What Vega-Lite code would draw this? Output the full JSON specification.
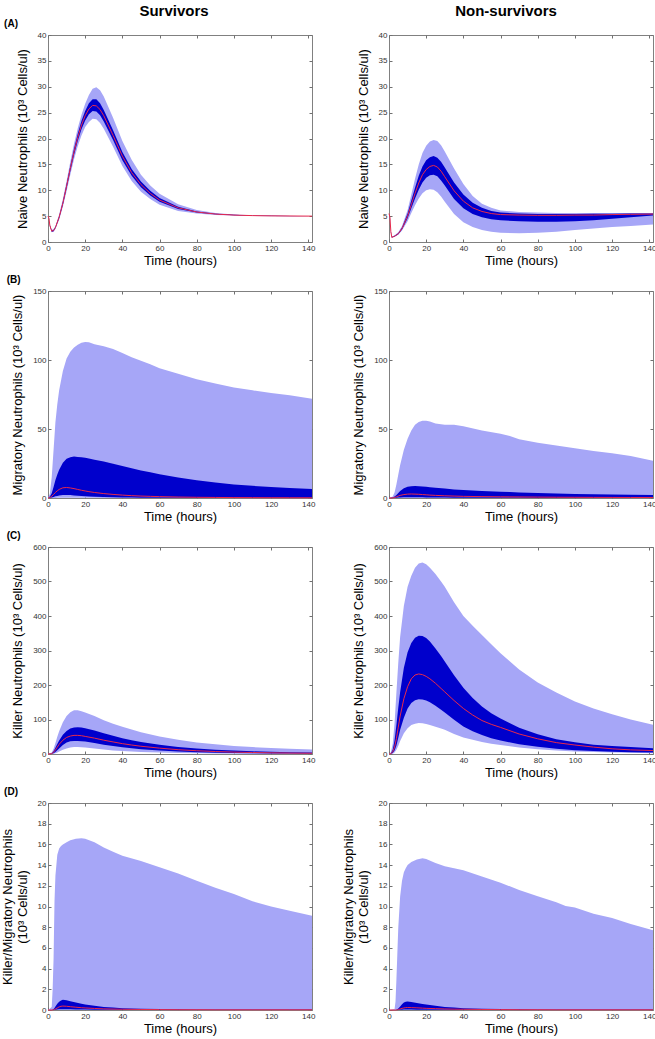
{
"$schema": "https://vega.github.io/schema/vega-lite/v6.json",
"background": "white",
"padding": {"left": 0, "top": 3, "right": 0, "bottom": 0},
"config": {
  "font": "Liberation Sans",
  "view": {"stroke": "#808080", "strokeWidth": 1},
  "axis": {"domain": false, "grid": false, "tickColor": "#707070", "tickSize": -3, "tickWidth": 1, "labelFontSize": 8, "labelColor": "#333333", "labelPadding": 5, "labelFlush": false, "labelOverlap": false, "titleFontSize": 13, "titleFontWeight": "normal", "titleColor": "#000000", "labelFont": "Liberation Sans", "titleFont": "Liberation Sans"},
  "axisX": {"titlePadding": 2},
  "axisY": {"titlePadding": 8},
  "title": {"fontSize": 10, "fontWeight": "bold", "anchor": "start", "frame": "bounds", "color": "#000000", "offset": 2, "font": "Liberation Sans"}
},
"datasets": {
"A_S": [
{"t":0,"med":5.0,"lo50":5.0,"hi50":5.0,"lo95":5.0,"hi95":5.0},
{"t":0.5,"med":4.6,"lo50":4.55,"hi50":4.65,"lo95":4.5,"hi95":4.7},
{"t":1,"med":3.2,"lo50":3.1,"hi50":3.3,"lo95":3.0,"hi95":3.4},
{"t":2,"med":2.1,"lo50":2.0,"hi50":2.2,"lo95":1.9,"hi95":2.3},
{"t":3,"med":2.2,"lo50":2.1,"hi50":2.3,"lo95":2.0,"hi95":2.5},
{"t":4,"med":2.8,"lo50":2.7,"hi50":2.9,"lo95":2.5,"hi95":3.1},
{"t":6,"med":4.8,"lo50":4.6,"hi50":5.0,"lo95":4.3,"hi95":5.3},
{"t":8,"med":7.5,"lo50":7.2,"hi50":7.8,"lo95":6.8,"hi95":8.3},
{"t":10,"med":10.8,"lo50":10.4,"hi50":11.2,"lo95":9.8,"hi95":11.8},
{"t":12,"med":14.2,"lo50":13.7,"hi50":14.7,"lo95":13.0,"hi95":15.5},
{"t":14,"med":17.4,"lo50":16.8,"hi50":18.0,"lo95":16.0,"hi95":19.0},
{"t":16,"med":20.2,"lo50":19.5,"hi50":20.9,"lo95":18.5,"hi95":22.0},
{"t":18,"med":22.6,"lo50":21.8,"hi50":23.4,"lo95":20.6,"hi95":24.6},
{"t":20,"med":24.4,"lo50":23.5,"hi50":25.3,"lo95":22.2,"hi95":26.7},
{"t":22,"med":25.7,"lo50":24.7,"hi50":26.8,"lo95":23.2,"hi95":28.4},
{"t":24,"med":26.4,"lo50":25.3,"hi50":27.6,"lo95":23.8,"hi95":29.6},
{"t":26,"med":26.3,"lo50":25.2,"hi50":27.6,"lo95":23.7,"hi95":29.9},
{"t":28,"med":25.6,"lo50":24.5,"hi50":26.8,"lo95":23.0,"hi95":29.3},
{"t":30,"med":24.4,"lo50":23.3,"hi50":25.5,"lo95":21.9,"hi95":28.1},
{"t":35,"med":20.6,"lo50":19.7,"hi50":21.6,"lo95":18.4,"hi95":24.0},
{"t":40,"med":16.6,"lo50":15.8,"hi50":17.4,"lo95":14.7,"hi95":19.5},
{"t":45,"med":13.4,"lo50":12.8,"hi50":14.1,"lo95":11.8,"hi95":15.9},
{"t":50,"med":11.1,"lo50":10.6,"hi50":11.7,"lo95":9.7,"hi95":13.0},
{"t":55,"med":9.4,"lo50":9.0,"hi50":9.9,"lo95":8.3,"hi95":10.9},
{"t":60,"med":8.1,"lo50":7.8,"hi50":8.5,"lo95":7.2,"hi95":9.3},
{"t":70,"med":6.6,"lo50":6.4,"hi50":6.8,"lo95":6.0,"hi95":7.3},
{"t":80,"med":5.8,"lo50":5.7,"hi50":5.9,"lo95":5.5,"hi95":6.2},
{"t":90,"med":5.4,"lo50":5.35,"hi50":5.45,"lo95":5.2,"hi95":5.6},
{"t":100,"med":5.2,"lo50":5.15,"hi50":5.25,"lo95":5.1,"hi95":5.3},
{"t":110,"med":5.1,"lo50":5.08,"hi50":5.13,"lo95":5.05,"hi95":5.17},
{"t":120,"med":5.05,"lo50":5.03,"hi50":5.07,"lo95":5.0,"hi95":5.1},
{"t":142,"med":5.0,"lo50":5.0,"hi50":5.0,"lo95":5.0,"hi95":5.0}
],
"A_N": [
{"t":0,"med":5.5,"lo50":5.5,"hi50":5.5,"lo95":5.5,"hi95":5.5},
{"t":0.5,"med":4.8,"lo50":4.7,"hi50":4.9,"lo95":4.6,"hi95":5.0},
{"t":1,"med":2.0,"lo50":1.9,"hi50":2.1,"lo95":1.8,"hi95":2.2},
{"t":1.5,"med":0.9,"lo50":0.85,"hi50":0.95,"lo95":0.8,"hi95":1.0},
{"t":3,"med":1.1,"lo50":1.05,"hi50":1.2,"lo95":1.0,"hi95":1.3},
{"t":5,"med":1.6,"lo50":1.5,"hi50":1.7,"lo95":1.4,"hi95":1.9},
{"t":7,"med":2.6,"lo50":2.4,"hi50":2.8,"lo95":2.2,"hi95":3.1},
{"t":10,"med":5.0,"lo50":4.6,"hi50":5.5,"lo95":4.0,"hi95":6.2},
{"t":12,"med":7.2,"lo50":6.5,"hi50":8.0,"lo95":5.6,"hi95":9.2},
{"t":14,"med":9.4,"lo50":8.4,"hi50":10.5,"lo95":7.1,"hi95":12.2},
{"t":16,"med":11.4,"lo50":10.1,"hi50":12.8,"lo95":8.4,"hi95":15.0},
{"t":18,"med":13.0,"lo50":11.5,"hi50":14.6,"lo95":9.4,"hi95":17.2},
{"t":20,"med":14.0,"lo50":12.4,"hi50":15.8,"lo95":10.0,"hi95":18.6},
{"t":22,"med":14.6,"lo50":12.9,"hi50":16.4,"lo95":10.2,"hi95":19.4},
{"t":24,"med":14.8,"lo50":13.0,"hi50":16.6,"lo95":10.1,"hi95":19.7},
{"t":26,"med":14.5,"lo50":12.7,"hi50":16.3,"lo95":9.6,"hi95":19.5},
{"t":28,"med":13.7,"lo50":11.9,"hi50":15.5,"lo95":8.8,"hi95":18.7},
{"t":30,"med":12.6,"lo50":10.9,"hi50":14.4,"lo95":7.8,"hi95":17.5},
{"t":35,"med":9.9,"lo50":8.3,"hi50":11.5,"lo95":5.4,"hi95":14.2},
{"t":40,"med":7.9,"lo50":6.5,"hi50":9.2,"lo95":3.8,"hi95":11.2},
{"t":45,"med":6.6,"lo50":5.4,"hi50":7.6,"lo95":2.9,"hi95":8.9},
{"t":50,"med":5.9,"lo50":4.8,"hi50":6.6,"lo95":2.3,"hi95":7.4},
{"t":55,"med":5.5,"lo50":4.4,"hi50":6.0,"lo95":2.0,"hi95":6.6},
{"t":60,"med":5.3,"lo50":4.2,"hi50":5.7,"lo95":1.8,"hi95":6.1},
{"t":70,"med":5.2,"lo50":4.0,"hi50":5.5,"lo95":1.7,"hi95":5.8},
{"t":80,"med":5.15,"lo50":3.9,"hi50":5.4,"lo95":1.8,"hi95":5.7},
{"t":90,"med":5.15,"lo50":3.9,"hi50":5.4,"lo95":2.0,"hi95":5.6},
{"t":100,"med":5.2,"lo50":4.0,"hi50":5.4,"lo95":2.3,"hi95":5.6},
{"t":110,"med":5.2,"lo50":4.2,"hi50":5.45,"lo95":2.6,"hi95":5.6},
{"t":120,"med":5.3,"lo50":4.5,"hi50":5.45,"lo95":2.9,"hi95":5.6},
{"t":130,"med":5.35,"lo50":4.8,"hi50":5.5,"lo95":3.1,"hi95":5.6},
{"t":142,"med":5.4,"lo50":5.1,"hi50":5.5,"lo95":3.4,"hi95":5.6}
],
"B_S": [
{"t":0,"med":0,"lo50":0,"hi50":0,"lo95":0,"hi95":0},
{"t":1,"med":0.3,"lo50":0.1,"hi50":1,"lo95":0,"hi95":3},
{"t":2,"med":1.2,"lo50":0.4,"hi50":3.5,"lo95":0,"hi95":15},
{"t":3,"med":2.6,"lo50":0.8,"hi50":8,"lo95":0,"hi95":35},
{"t":4,"med":4.0,"lo50":1.2,"hi50":13,"lo95":0,"hi95":55},
{"t":5,"med":5.2,"lo50":1.5,"hi50":17,"lo95":0.1,"hi95":68},
{"t":6,"med":6.2,"lo50":1.8,"hi50":20.5,"lo95":0.1,"hi95":78},
{"t":8,"med":7.4,"lo50":2.1,"hi50":25.5,"lo95":0.1,"hi95":92},
{"t":10,"med":7.6,"lo50":2.2,"hi50":28.5,"lo95":0.1,"hi95":101},
{"t":12,"med":7.3,"lo50":2.1,"hi50":29.6,"lo95":0.1,"hi95":106},
{"t":14,"med":6.8,"lo50":1.9,"hi50":30,"lo95":0.1,"hi95":109},
{"t":16,"med":6.2,"lo50":1.7,"hi50":29.8,"lo95":0.1,"hi95":111},
{"t":18,"med":5.6,"lo50":1.5,"hi50":29.5,"lo95":0.1,"hi95":112.5},
{"t":20,"med":5.1,"lo50":1.3,"hi50":29.1,"lo95":0.1,"hi95":113},
{"t":22,"med":4.6,"lo50":1.1,"hi50":28.6,"lo95":0.1,"hi95":112.8},
{"t":25,"med":4.0,"lo50":0.9,"hi50":27.8,"lo95":0.1,"hi95":111.5},
{"t":30,"med":3.2,"lo50":0.7,"hi50":26.4,"lo95":0.05,"hi95":110},
{"t":35,"med":2.6,"lo50":0.5,"hi50":24.8,"lo95":0.05,"hi95":108},
{"t":40,"med":2.1,"lo50":0.4,"hi50":23.2,"lo95":0.05,"hi95":105},
{"t":45,"med":1.7,"lo50":0.3,"hi50":21.6,"lo95":0.05,"hi95":102},
{"t":50,"med":1.4,"lo50":0.25,"hi50":20,"lo95":0.05,"hi95":99.5},
{"t":55,"med":1.2,"lo50":0.2,"hi50":18.6,"lo95":0,"hi95":97},
{"t":60,"med":1.0,"lo50":0.15,"hi50":17.2,"lo95":0,"hi95":94},
{"t":70,"med":0.7,"lo50":0.1,"hi50":14.8,"lo95":0,"hi95":90},
{"t":80,"med":0.5,"lo50":0.07,"hi50":12.8,"lo95":0,"hi95":86},
{"t":90,"med":0.4,"lo50":0.05,"hi50":11.2,"lo95":0,"hi95":83},
{"t":100,"med":0.3,"lo50":0.04,"hi50":9.8,"lo95":0,"hi95":80},
{"t":110,"med":0.25,"lo50":0.03,"hi50":8.8,"lo95":0,"hi95":78},
{"t":120,"med":0.2,"lo50":0.02,"hi50":7.9,"lo95":0,"hi95":76},
{"t":130,"med":0.18,"lo50":0.02,"hi50":7.2,"lo95":0,"hi95":74.5},
{"t":142,"med":0.15,"lo50":0.02,"hi50":6.5,"lo95":0,"hi95":72}
],
"B_N": [
{"t":0,"med":0,"lo50":0,"hi50":0,"lo95":0,"hi95":0},
{"t":2,"med":0.1,"lo50":0,"hi50":0.3,"lo95":0,"hi95":1},
{"t":3,"med":0.4,"lo50":0.1,"hi50":1,"lo95":0,"hi95":4},
{"t":4,"med":0.9,"lo50":0.2,"hi50":2.2,"lo95":0,"hi95":10},
{"t":5,"med":1.4,"lo50":0.3,"hi50":3.6,"lo95":0,"hi95":17},
{"t":6,"med":1.9,"lo50":0.4,"hi50":5.0,"lo95":0,"hi95":24},
{"t":8,"med":2.5,"lo50":0.5,"hi50":7.0,"lo95":0,"hi95":35},
{"t":10,"med":2.8,"lo50":0.6,"hi50":8.1,"lo95":0,"hi95":43},
{"t":12,"med":2.9,"lo50":0.6,"hi50":8.6,"lo95":0,"hi95":49},
{"t":14,"med":2.8,"lo50":0.6,"hi50":8.7,"lo95":0,"hi95":53},
{"t":16,"med":2.7,"lo50":0.5,"hi50":8.6,"lo95":0,"hi95":55},
{"t":18,"med":2.5,"lo50":0.5,"hi50":8.4,"lo95":0,"hi95":56},
{"t":20,"med":2.3,"lo50":0.4,"hi50":8.1,"lo95":0,"hi95":56},
{"t":22,"med":2.1,"lo50":0.4,"hi50":7.8,"lo95":0,"hi95":55.5},
{"t":25,"med":1.9,"lo50":0.35,"hi50":7.4,"lo95":0,"hi95":54},
{"t":30,"med":1.6,"lo50":0.3,"hi50":6.8,"lo95":0,"hi95":53},
{"t":35,"med":1.4,"lo50":0.25,"hi50":6.2,"lo95":0,"hi95":53},
{"t":40,"med":1.2,"lo50":0.2,"hi50":5.8,"lo95":0,"hi95":52},
{"t":50,"med":1.0,"lo50":0.15,"hi50":5.0,"lo95":0,"hi95":49},
{"t":60,"med":0.85,"lo50":0.1,"hi50":4.5,"lo95":0,"hi95":46.5},
{"t":65,"med":0.8,"lo50":0.1,"hi50":4.3,"lo95":0,"hi95":45},
{"t":70,"med":0.75,"lo50":0.1,"hi50":4.0,"lo95":0,"hi95":42.5},
{"t":80,"med":0.65,"lo50":0.08,"hi50":3.6,"lo95":0,"hi95":40},
{"t":90,"med":0.55,"lo50":0.06,"hi50":3.2,"lo95":0,"hi95":38},
{"t":100,"med":0.5,"lo50":0.05,"hi50":2.9,"lo95":0,"hi95":36},
{"t":110,"med":0.45,"lo50":0.05,"hi50":2.7,"lo95":0,"hi95":34},
{"t":120,"med":0.4,"lo50":0.04,"hi50":2.5,"lo95":0,"hi95":32.5},
{"t":130,"med":0.37,"lo50":0.04,"hi50":2.3,"lo95":0,"hi95":30.5},
{"t":142,"med":0.35,"lo50":0.03,"hi50":2.2,"lo95":0,"hi95":27}
],
"C_S": [
{"t":0,"med":0,"lo50":0,"hi50":0,"lo95":0,"hi95":0},
{"t":2,"med":1,"lo50":0.5,"hi50":2,"lo95":0.2,"hi95":4},
{"t":3,"med":5,"lo50":2.5,"hi50":8,"lo95":1,"hi95":15},
{"t":4,"med":12,"lo50":6,"hi50":18,"lo95":2.5,"hi95":32},
{"t":5,"med":20,"lo50":11,"hi50":29,"lo95":4.5,"hi95":50},
{"t":6,"med":28,"lo50":16,"hi50":39,"lo95":7,"hi95":66},
{"t":8,"med":40,"lo50":26,"hi50":56,"lo95":12,"hi95":92},
{"t":10,"med":48,"lo50":33,"hi50":67,"lo95":16,"hi95":110},
{"t":12,"med":52,"lo50":37,"hi50":74,"lo95":19,"hi95":121},
{"t":14,"med":54,"lo50":38,"hi50":77,"lo95":20,"hi95":127},
{"t":16,"med":54,"lo50":38,"hi50":77.5,"lo95":20,"hi95":127},
{"t":18,"med":53,"lo50":37,"hi50":76.5,"lo95":19.5,"hi95":124},
{"t":20,"med":51,"lo50":36,"hi50":74.5,"lo95":18.5,"hi95":120},
{"t":25,"med":46,"lo50":32,"hi50":68,"lo95":16,"hi95":110},
{"t":30,"med":40,"lo50":27,"hi50":60,"lo95":13,"hi95":98},
{"t":35,"med":35,"lo50":23,"hi50":53,"lo95":10.5,"hi95":88},
{"t":40,"med":30,"lo50":19.5,"hi50":46,"lo95":8.5,"hi95":79},
{"t":45,"med":26,"lo50":16.5,"hi50":40,"lo95":7,"hi95":71},
{"t":50,"med":22.5,"lo50":14,"hi50":35,"lo95":5.8,"hi95":63},
{"t":60,"med":17,"lo50":10,"hi50":27,"lo95":4,"hi95":51},
{"t":70,"med":12.5,"lo50":7.2,"hi50":20.5,"lo95":2.8,"hi95":41},
{"t":80,"med":9.5,"lo50":5.2,"hi50":16,"lo95":2,"hi95":33.5},
{"t":90,"med":7.2,"lo50":3.8,"hi50":12.5,"lo95":1.4,"hi95":28},
{"t":100,"med":5.5,"lo50":2.8,"hi50":9.8,"lo95":1,"hi95":23.5},
{"t":110,"med":4.3,"lo50":2.1,"hi50":7.8,"lo95":0.7,"hi95":20},
{"t":120,"med":3.4,"lo50":1.6,"hi50":6.3,"lo95":0.5,"hi95":17.5},
{"t":130,"med":2.7,"lo50":1.2,"hi50":5.1,"lo95":0.4,"hi95":15.5},
{"t":142,"med":2.1,"lo50":0.9,"hi50":4.2,"lo95":0.3,"hi95":13}
],
"C_N": [
{"t":0,"med":0,"lo50":0,"hi50":0,"lo95":0,"hi95":0},
{"t":1,"med":1,"lo50":0.5,"hi50":2,"lo95":0.2,"hi95":5},
{"t":2,"med":6,"lo50":3,"hi50":12,"lo95":1,"hi95":30},
{"t":3,"med":20,"lo50":10,"hi50":40,"lo95":4,"hi95":90},
{"t":4,"med":45,"lo50":25,"hi50":85,"lo95":12,"hi95":180},
{"t":5,"med":78,"lo50":47,"hi50":135,"lo95":24,"hi95":265},
{"t":6,"med":110,"lo50":70,"hi50":180,"lo95":38,"hi95":340},
{"t":8,"med":160,"lo50":105,"hi50":250,"lo95":60,"hi95":430},
{"t":10,"med":195,"lo50":132,"hi50":295,"lo95":75,"hi95":485},
{"t":12,"med":218,"lo50":148,"hi50":322,"lo95":84,"hi95":517},
{"t":14,"med":229,"lo50":156,"hi50":337,"lo95":88,"hi95":540},
{"t":16,"med":232,"lo50":159,"hi50":343,"lo95":90,"hi95":552},
{"t":18,"med":230,"lo50":158,"hi50":342,"lo95":89,"hi95":555},
{"t":20,"med":225,"lo50":155,"hi50":336,"lo95":87,"hi95":550},
{"t":22,"med":218,"lo50":150,"hi50":326,"lo95":84,"hi95":540},
{"t":25,"med":205,"lo50":140,"hi50":306,"lo95":79,"hi95":522},
{"t":28,"med":190,"lo50":128,"hi50":284,"lo95":74,"hi95":500},
{"t":30,"med":180,"lo50":120,"hi50":268,"lo95":70,"hi95":485},
{"t":35,"med":155,"lo50":99,"hi50":228,"lo95":58,"hi95":440},
{"t":40,"med":132,"lo50":80,"hi50":192,"lo95":48,"hi95":400},
{"t":45,"med":113,"lo50":66,"hi50":162,"lo95":41,"hi95":372},
{"t":50,"med":97,"lo50":55,"hi50":138,"lo95":35,"hi95":345},
{"t":55,"med":86,"lo50":46,"hi50":118,"lo95":30,"hi95":318},
{"t":60,"med":77,"lo50":39,"hi50":103,"lo95":26,"hi95":292},
{"t":70,"med":58,"lo50":28,"hi50":76,"lo95":19,"hi95":245},
{"t":80,"med":44,"lo50":21,"hi50":57,"lo95":14,"hi95":207},
{"t":90,"med":33,"lo50":15,"hi50":43,"lo95":10,"hi95":178},
{"t":100,"med":26,"lo50":11,"hi50":34,"lo95":7.5,"hi95":152},
{"t":110,"med":20,"lo50":8.5,"hi50":27,"lo95":5.5,"hi95":132},
{"t":120,"med":15,"lo50":6.5,"hi50":23,"lo95":4.2,"hi95":115},
{"t":130,"med":12,"lo50":5,"hi50":20,"lo95":3.3,"hi95":100},
{"t":142,"med":10,"lo50":4,"hi50":17,"lo95":2.5,"hi95":85}
],
"D_S": [
{"t":0,"med":0,"lo50":0,"hi50":0,"lo95":0,"hi95":0},
{"t":2,"med":0,"lo50":0,"hi50":0.01,"lo95":0,"hi95":0.3},
{"t":2.5,"med":0.01,"lo50":0,"hi50":0.03,"lo95":0,"hi95":2},
{"t":3,"med":0.03,"lo50":0.01,"hi50":0.1,"lo95":0,"hi95":5},
{"t":3.5,"med":0.06,"lo50":0.02,"hi50":0.2,"lo95":0,"hi95":10.5},
{"t":4,"med":0.1,"lo50":0.03,"hi50":0.35,"lo95":0,"hi95":13},
{"t":5,"med":0.2,"lo50":0.05,"hi50":0.6,"lo95":0,"hi95":15},
{"t":6,"med":0.3,"lo50":0.07,"hi50":0.8,"lo95":0,"hi95":15.6},
{"t":7,"med":0.36,"lo50":0.08,"hi50":0.93,"lo95":0,"hi95":15.85},
{"t":8,"med":0.38,"lo50":0.08,"hi50":0.98,"lo95":0,"hi95":16.0},
{"t":10,"med":0.36,"lo50":0.08,"hi50":0.95,"lo95":0,"hi95":16.2},
{"t":12,"med":0.32,"lo50":0.07,"hi50":0.85,"lo95":0,"hi95":16.4},
{"t":15,"med":0.27,"lo50":0.06,"hi50":0.72,"lo95":0,"hi95":16.55},
{"t":18,"med":0.22,"lo50":0.05,"hi50":0.6,"lo95":0,"hi95":16.6},
{"t":20,"med":0.2,"lo50":0.04,"hi50":0.53,"lo95":0,"hi95":16.55},
{"t":25,"med":0.15,"lo50":0.03,"hi50":0.4,"lo95":0,"hi95":16.2},
{"t":30,"med":0.11,"lo50":0.02,"hi50":0.3,"lo95":0,"hi95":15.7},
{"t":35,"med":0.09,"lo50":0.02,"hi50":0.23,"lo95":0,"hi95":15.3},
{"t":40,"med":0.07,"lo50":0.01,"hi50":0.18,"lo95":0,"hi95":14.9},
{"t":50,"med":0.05,"lo50":0.01,"hi50":0.12,"lo95":0,"hi95":14.4},
{"t":60,"med":0.04,"lo50":0.01,"hi50":0.09,"lo95":0,"hi95":13.8},
{"t":70,"med":0.03,"lo50":0,"hi50":0.07,"lo95":0,"hi95":13.2},
{"t":80,"med":0.03,"lo50":0,"hi50":0.06,"lo95":0,"hi95":12.5},
{"t":90,"med":0.02,"lo50":0,"hi50":0.05,"lo95":0,"hi95":11.8},
{"t":100,"med":0.02,"lo50":0,"hi50":0.05,"lo95":0,"hi95":11.2},
{"t":110,"med":0.02,"lo50":0,"hi50":0.04,"lo95":0,"hi95":10.5},
{"t":120,"med":0.02,"lo50":0,"hi50":0.04,"lo95":0,"hi95":10.0},
{"t":130,"med":0.02,"lo50":0,"hi50":0.04,"lo95":0,"hi95":9.6},
{"t":142,"med":0.02,"lo50":0,"hi50":0.04,"lo95":0,"hi95":9.1}
],
"D_N": [
{"t":0,"med":0,"lo50":0,"hi50":0,"lo95":0,"hi95":0},
{"t":3,"med":0,"lo50":0,"hi50":0,"lo95":0,"hi95":0.1},
{"t":3.5,"med":0,"lo50":0,"hi50":0.01,"lo95":0,"hi95":0.8},
{"t":4,"med":0.01,"lo50":0,"hi50":0.03,"lo95":0,"hi95":3},
{"t":4.5,"med":0.02,"lo50":0,"hi50":0.07,"lo95":0,"hi95":5.5},
{"t":5,"med":0.04,"lo50":0.01,"hi50":0.15,"lo95":0,"hi95":8},
{"t":6,"med":0.1,"lo50":0.02,"hi50":0.35,"lo95":0,"hi95":11},
{"t":7,"med":0.16,"lo50":0.03,"hi50":0.55,"lo95":0,"hi95":12.5},
{"t":8,"med":0.2,"lo50":0.04,"hi50":0.72,"lo95":0,"hi95":13.3},
{"t":9,"med":0.23,"lo50":0.04,"hi50":0.8,"lo95":0,"hi95":13.7},
{"t":10,"med":0.24,"lo50":0.04,"hi50":0.82,"lo95":0,"hi95":14.0},
{"t":12,"med":0.23,"lo50":0.04,"hi50":0.78,"lo95":0,"hi95":14.3},
{"t":15,"med":0.21,"lo50":0.03,"hi50":0.68,"lo95":0,"hi95":14.55},
{"t":18,"med":0.18,"lo50":0.03,"hi50":0.58,"lo95":0,"hi95":14.65},
{"t":20,"med":0.16,"lo50":0.03,"hi50":0.52,"lo95":0,"hi95":14.6},
{"t":25,"med":0.13,"lo50":0.02,"hi50":0.4,"lo95":0,"hi95":14.2},
{"t":30,"med":0.1,"lo50":0.02,"hi50":0.3,"lo95":0,"hi95":13.9},
{"t":35,"med":0.08,"lo50":0.01,"hi50":0.23,"lo95":0,"hi95":13.7},
{"t":40,"med":0.07,"lo50":0.01,"hi50":0.18,"lo95":0,"hi95":13.5},
{"t":50,"med":0.05,"lo50":0.01,"hi50":0.12,"lo95":0,"hi95":12.9},
{"t":60,"med":0.04,"lo50":0,"hi50":0.09,"lo95":0,"hi95":12.3},
{"t":70,"med":0.03,"lo50":0,"hi50":0.07,"lo95":0,"hi95":11.6},
{"t":80,"med":0.03,"lo50":0,"hi50":0.06,"lo95":0,"hi95":11.0},
{"t":90,"med":0.02,"lo50":0,"hi50":0.05,"lo95":0,"hi95":10.4},
{"t":95,"med":0.02,"lo50":0,"hi50":0.05,"lo95":0,"hi95":10.05},
{"t":100,"med":0.02,"lo50":0,"hi50":0.05,"lo95":0,"hi95":9.9},
{"t":110,"med":0.02,"lo50":0,"hi50":0.04,"lo95":0,"hi95":9.3},
{"t":120,"med":0.02,"lo50":0,"hi50":0.04,"lo95":0,"hi95":8.9},
{"t":130,"med":0.02,"lo50":0,"hi50":0.04,"lo95":0,"hi95":8.3},
{"t":142,"med":0.02,"lo50":0,"hi50":0.04,"lo95":0,"hi95":7.7}
]
},
"spacing": 25,
"hconcat": [
{
 "title": {"text": "Survivors", "fontSize": 15, "anchor": "middle", "frame": "bounds", "offset": 0, "dx": 16},
 "spacing": 6,
 "vconcat": [
  {"title": {"text": "(A)", "dx": -12}, "width": 264, "height": 207, "data": {"name": "A_S"},
   "layer": [
    {"mark": {"type": "area", "color": "#a6a6f7"}, "encoding": {
      "x": {"field": "t", "type": "quantitative", "scale": {"domain": [0, 142], "nice": false}, "axis": {"orient": "bottom", "values": [0,20,40,60,80,100,120,140], "title": "Time (hours)"}},
      "y": {"field": "lo95", "type": "quantitative", "scale": {"domain": [0, 40], "nice": false}, "axis": {"orient": "left", "values": [0,5,10,15,20,25,30,35,40], "title": "Naive Neutrophils (10³ Cells/ul)"}},
      "y2": {"field": "hi95"}}},
    {"mark": {"type": "area", "color": "#0000cc"}, "encoding": {
      "x": {"field": "t", "type": "quantitative", "axis": {"orient": "top", "values": [0,20,40,60,80,100,120,140], "labels": false, "title": null}},
      "y": {"field": "lo50", "type": "quantitative", "axis": {"orient": "right", "values": [0,5,10,15,20,25,30,35,40], "labels": false, "title": null}},
      "y2": {"field": "hi50"}}},
    {"mark": {"type": "line", "color": "#e8294a", "strokeWidth": 1}, "encoding": {
      "x": {"field": "t", "type": "quantitative", "axis": null},
      "y": {"field": "med", "type": "quantitative", "axis": null}}}
   ],
   "resolve": {"axis": {"x": "independent", "y": "independent"}}},
  {"title": {"text": "(B)", "dx": -5}, "width": 264, "height": 207, "data": {"name": "B_S"},
   "layer": [
    {"mark": {"type": "area", "color": "#a6a6f7"}, "encoding": {
      "x": {"field": "t", "type": "quantitative", "scale": {"domain": [0, 142], "nice": false}, "axis": {"orient": "bottom", "values": [0,20,40,60,80,100,120,140], "title": "Time (hours)"}},
      "y": {"field": "lo95", "type": "quantitative", "scale": {"domain": [0, 150], "nice": false}, "axis": {"orient": "left", "values": [0,50,100,150], "title": "Migratory Neutrophils (10³ Cells/ul)"}},
      "y2": {"field": "hi95"}}},
    {"mark": {"type": "area", "color": "#0000cc"}, "encoding": {
      "x": {"field": "t", "type": "quantitative", "axis": {"orient": "top", "values": [0,20,40,60,80,100,120,140], "labels": false, "title": null}},
      "y": {"field": "lo50", "type": "quantitative", "axis": {"orient": "right", "values": [0,50,100,150], "labels": false, "title": null}},
      "y2": {"field": "hi50"}}},
    {"mark": {"type": "line", "color": "#e8294a", "strokeWidth": 1}, "encoding": {
      "x": {"field": "t", "type": "quantitative", "axis": null},
      "y": {"field": "med", "type": "quantitative", "axis": null}}}
   ],
   "resolve": {"axis": {"x": "independent", "y": "independent"}}},
  {"title": {"text": "(C)", "dx": -5}, "width": 264, "height": 207, "data": {"name": "C_S"},
   "layer": [
    {"mark": {"type": "area", "color": "#a6a6f7"}, "encoding": {
      "x": {"field": "t", "type": "quantitative", "scale": {"domain": [0, 142], "nice": false}, "axis": {"orient": "bottom", "values": [0,20,40,60,80,100,120,140], "title": "Time (hours)"}},
      "y": {"field": "lo95", "type": "quantitative", "scale": {"domain": [0, 600], "nice": false}, "axis": {"orient": "left", "values": [0,100,200,300,400,500,600], "title": "Killer Neutrophils (10³ Cells/ul)"}},
      "y2": {"field": "hi95"}}},
    {"mark": {"type": "area", "color": "#0000cc"}, "encoding": {
      "x": {"field": "t", "type": "quantitative", "axis": {"orient": "top", "values": [0,20,40,60,80,100,120,140], "labels": false, "title": null}},
      "y": {"field": "lo50", "type": "quantitative", "axis": {"orient": "right", "values": [0,100,200,300,400,500,600], "labels": false, "title": null}},
      "y2": {"field": "hi50"}}},
    {"mark": {"type": "line", "color": "#e8294a", "strokeWidth": 1}, "encoding": {
      "x": {"field": "t", "type": "quantitative", "axis": null},
      "y": {"field": "med", "type": "quantitative", "axis": null}}}
   ],
   "resolve": {"axis": {"x": "independent", "y": "independent"}}},
  {"title": {"text": "(D)", "dx": 3}, "width": 264, "height": 207, "data": {"name": "D_S"},
   "layer": [
    {"mark": {"type": "area", "color": "#a6a6f7"}, "encoding": {
      "x": {"field": "t", "type": "quantitative", "scale": {"domain": [0, 142], "nice": false}, "axis": {"orient": "bottom", "values": [0,20,40,60,80,100,120,140], "title": "Time (hours)"}},
      "y": {"field": "lo95", "type": "quantitative", "scale": {"domain": [0, 20], "nice": false}, "axis": {"orient": "left", "values": [0,2,4,6,8,10,12,14,16,18,20], "title": ["Killer/Migratory Neutrophils", "(10³ Cells/ul)"]}},
      "y2": {"field": "hi95"}}},
    {"mark": {"type": "area", "color": "#0000cc"}, "encoding": {
      "x": {"field": "t", "type": "quantitative", "axis": {"orient": "top", "values": [0,20,40,60,80,100,120,140], "labels": false, "title": null}},
      "y": {"field": "lo50", "type": "quantitative", "axis": {"orient": "right", "values": [0,2,4,6,8,10,12,14,16,18,20], "labels": false, "title": null}},
      "y2": {"field": "hi50"}}},
    {"mark": {"type": "line", "color": "#e8294a", "strokeWidth": 1}, "encoding": {
      "x": {"field": "t", "type": "quantitative", "axis": null},
      "y": {"field": "med", "type": "quantitative", "axis": null}}}
   ],
   "resolve": {"axis": {"x": "independent", "y": "independent"}}}
 ]
},
{
 "title": {"text": "Non-survivors", "fontSize": 15, "anchor": "middle", "frame": "bounds", "offset": 0, "dx": 7},
 "spacing": 6,
 "vconcat": [
  {"title": {"text": " "}, "width": 264, "height": 207, "data": {"name": "A_N"},
   "layer": [
    {"mark": {"type": "area", "color": "#a6a6f7"}, "encoding": {
      "x": {"field": "t", "type": "quantitative", "scale": {"domain": [0, 142], "nice": false}, "axis": {"orient": "bottom", "values": [0,20,40,60,80,100,120,140], "title": "Time (hours)"}},
      "y": {"field": "lo95", "type": "quantitative", "scale": {"domain": [0, 40], "nice": false}, "axis": {"orient": "left", "values": [0,5,10,15,20,25,30,35,40], "title": "Naive Neutrophils (10³ Cells/ul)"}},
      "y2": {"field": "hi95"}}},
    {"mark": {"type": "area", "color": "#0000cc"}, "encoding": {
      "x": {"field": "t", "type": "quantitative", "axis": {"orient": "top", "values": [0,20,40,60,80,100,120,140], "labels": false, "title": null}},
      "y": {"field": "lo50", "type": "quantitative", "axis": {"orient": "right", "values": [0,5,10,15,20,25,30,35,40], "labels": false, "title": null}},
      "y2": {"field": "hi50"}}},
    {"mark": {"type": "line", "color": "#e8294a", "strokeWidth": 1}, "encoding": {
      "x": {"field": "t", "type": "quantitative", "axis": null},
      "y": {"field": "med", "type": "quantitative", "axis": null}}}
   ],
   "resolve": {"axis": {"x": "independent", "y": "independent"}}},
  {"title": {"text": " "}, "width": 264, "height": 207, "data": {"name": "B_N"},
   "layer": [
    {"mark": {"type": "area", "color": "#a6a6f7"}, "encoding": {
      "x": {"field": "t", "type": "quantitative", "scale": {"domain": [0, 142], "nice": false}, "axis": {"orient": "bottom", "values": [0,20,40,60,80,100,120,140], "title": "Time (hours)"}},
      "y": {"field": "lo95", "type": "quantitative", "scale": {"domain": [0, 150], "nice": false}, "axis": {"orient": "left", "values": [0,50,100,150], "title": "Migratory Neutrophils (10³ Cells/ul)"}},
      "y2": {"field": "hi95"}}},
    {"mark": {"type": "area", "color": "#0000cc"}, "encoding": {
      "x": {"field": "t", "type": "quantitative", "axis": {"orient": "top", "values": [0,20,40,60,80,100,120,140], "labels": false, "title": null}},
      "y": {"field": "lo50", "type": "quantitative", "axis": {"orient": "right", "values": [0,50,100,150], "labels": false, "title": null}},
      "y2": {"field": "hi50"}}},
    {"mark": {"type": "line", "color": "#e8294a", "strokeWidth": 1}, "encoding": {
      "x": {"field": "t", "type": "quantitative", "axis": null},
      "y": {"field": "med", "type": "quantitative", "axis": null}}}
   ],
   "resolve": {"axis": {"x": "independent", "y": "independent"}}},
  {"title": {"text": " "}, "width": 264, "height": 207, "data": {"name": "C_N"},
   "layer": [
    {"mark": {"type": "area", "color": "#a6a6f7"}, "encoding": {
      "x": {"field": "t", "type": "quantitative", "scale": {"domain": [0, 142], "nice": false}, "axis": {"orient": "bottom", "values": [0,20,40,60,80,100,120,140], "title": "Time (hours)"}},
      "y": {"field": "lo95", "type": "quantitative", "scale": {"domain": [0, 600], "nice": false}, "axis": {"orient": "left", "values": [0,100,200,300,400,500,600], "title": "Killer Neutrophils (10³ Cells/ul)"}},
      "y2": {"field": "hi95"}}},
    {"mark": {"type": "area", "color": "#0000cc"}, "encoding": {
      "x": {"field": "t", "type": "quantitative", "axis": {"orient": "top", "values": [0,20,40,60,80,100,120,140], "labels": false, "title": null}},
      "y": {"field": "lo50", "type": "quantitative", "axis": {"orient": "right", "values": [0,100,200,300,400,500,600], "labels": false, "title": null}},
      "y2": {"field": "hi50"}}},
    {"mark": {"type": "line", "color": "#e8294a", "strokeWidth": 1}, "encoding": {
      "x": {"field": "t", "type": "quantitative", "axis": null},
      "y": {"field": "med", "type": "quantitative", "axis": null}}}
   ],
   "resolve": {"axis": {"x": "independent", "y": "independent"}}},
  {"title": {"text": " "}, "width": 264, "height": 207, "data": {"name": "D_N"},
   "layer": [
    {"mark": {"type": "area", "color": "#a6a6f7"}, "encoding": {
      "x": {"field": "t", "type": "quantitative", "scale": {"domain": [0, 142], "nice": false}, "axis": {"orient": "bottom", "values": [0,20,40,60,80,100,120,140], "title": "Time (hours)"}},
      "y": {"field": "lo95", "type": "quantitative", "scale": {"domain": [0, 20], "nice": false}, "axis": {"orient": "left", "values": [0,2,4,6,8,10,12,14,16,18,20], "title": ["Killer/Migratory Neutrophils", "(10³ Cells/ul)"]}},
      "y2": {"field": "hi95"}}},
    {"mark": {"type": "area", "color": "#0000cc"}, "encoding": {
      "x": {"field": "t", "type": "quantitative", "axis": {"orient": "top", "values": [0,20,40,60,80,100,120,140], "labels": false, "title": null}},
      "y": {"field": "lo50", "type": "quantitative", "axis": {"orient": "right", "values": [0,2,4,6,8,10,12,14,16,18,20], "labels": false, "title": null}},
      "y2": {"field": "hi50"}}},
    {"mark": {"type": "line", "color": "#e8294a", "strokeWidth": 1}, "encoding": {
      "x": {"field": "t", "type": "quantitative", "axis": null},
      "y": {"field": "med", "type": "quantitative", "axis": null}}}
   ],
   "resolve": {"axis": {"x": "independent", "y": "independent"}}}
 ]
}
]
}
